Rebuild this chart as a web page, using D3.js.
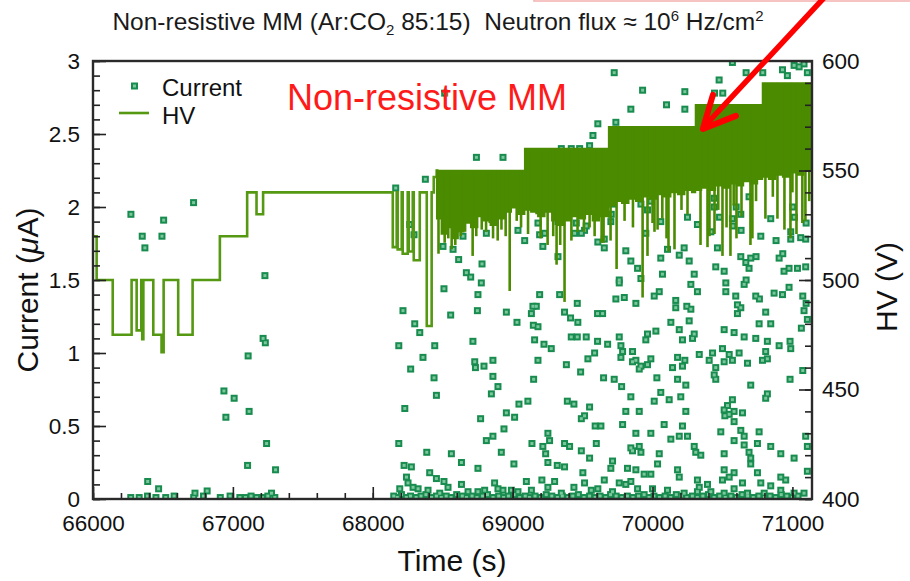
<!DOCTYPE html>
<html>
<head>
<meta charset="utf-8">
<script src="https://cdn.jsdelivr.net/npm/d3@7"></script>
<style>
  body { margin: 0; background: #fff; }
  svg { display: block; }
  text { font-family: "Liberation Sans", Arial, Helvetica, sans-serif; white-space: pre; }
</style>
</head>
<body>
<svg id="chart" width="910" height="581"></svg>
<script>
// ---------------- data ----------------
const timeDomain = [66000, 71140];
const currentDomain = [0, 3];
const hvDomain = [400, 600];

const timeTicks = [66000, 67000, 68000, 69000, 70000, 71000];
const currentTicks = [0, 0.5, 1, 1.5, 2, 2.5, 3];
const hvTicks = [400, 450, 500, 550, 600];

// Current readings [time (s), current (uA)]
const currentPoints = [
  [66271,1.95],[66505,1.91],[66719,2.03],[66352,1.80],[66493,1.80],[66371,1.72],
  [67229,1.53],[67216,1.10],[67232,1.07],[67109,0.98],[66936,0.74],[67009,0.69],[67116,0.60],
  [66950,0.56],[67241,0.38],[67105,0.23],[67305,0.20],[66391,0.12],[66469,0.07],[66729,0.04],
  [66816,0.055],[67276,0.04],
  [68164,2.13],[68186,1.05],[68216,1.29],[68229,0.62],[68186,0.38],[68224,0.23],
  [68509,1.44],[68776,1.48],[68752,1.40],[68557,1.26],[68748,1.29],[68300,1.20],[68336,1.14],
  [68443,1.05],[68359,0.97],[68271,0.89],[68438,0.83],[68455,0.71],[68386,0.32],[68562,0.31],
  [68634,0.25],[68276,0.22],[68407,0.18],[68455,0.14],[68509,0.12],[68752,0.21],[68716,1.08],
  [68729,0.94],[68734,0.90],[68795,0.91],[68859,0.95],[68859,0.84],[68895,0.77],[68848,0.72],
  [68771,0.55],[68812,0.40],[68859,0.43],[68938,0.48],[68955,0.59],[69014,0.56],[69045,0.65],
  [69109,0.67],[68919,0.32],[69009,0.24],[68955,1.28],[69031,1.21],[69145,1.32],[69169,1.32],
  [69134,1.27],[69148,1.19],[69181,1.18],[69193,1.40],[69336,1.40],[69157,1.09],[69224,1.06],
  [69276,1.03],[69181,0.95],[69150,0.82],[69371,1.28],[69414,1.24],[69466,1.21],[69462,1.34],
  [69419,1.11],[69462,1.11],[69526,1.11],[69384,0.92],[69486,0.87],[69538,0.96],[69586,1.00],
  [69391,0.67],[69438,0.65],[69550,0.63],[69514,0.57],[69491,0.55],[69590,0.50],[69252,0.45],
  [69264,0.40],[69216,0.36],[69236,0.31],[69138,0.38],[69371,0.38],[69407,0.36],[69252,0.25],
  [69319,0.23],[69371,0.22],[69491,0.33],[69550,0.28],[69502,0.18],[69209,0.13],[69300,0.12],
  [69438,0.08],[69598,0.38],[69607,1.27],[69607,1.08],
  [68193,0.07],[68241,0.15],[68252,0.11],[68288,0.08],[68324,0.07],[68395,0.06],[68479,0.04],
  [68538,0.08],[68634,0.10],[68681,0.05],[68752,0.05],[68800,0.06],[68871,0.11],[68895,0.07],
  [68931,0.06],[68991,0.06],[69038,0.05],[69098,0.12],[69134,0.06],[69252,0.08],[69348,0.04],
  [69514,0.11],[69562,0.06],[69609,0.07],
  [69762,1.48],[69738,1.37],[69798,1.38],[69881,1.34],[69643,1.27],[70048,1.42],[70012,1.39],
  [70166,1.36],[70166,1.31],[70274,1.30],[70245,1.32],[70274,1.47],[70321,1.42],[70524,1.48],
  [70524,1.42],[70655,1.47],[70595,1.39],[70607,1.33],[70631,1.31],[70607,1.27],[70738,1.39],
  [70869,1.41],[70929,1.40],[70976,1.45],[70809,1.28],[71083,1.29],[71107,1.23],[70131,1.21],
  [70191,1.16],[69964,1.13],[70024,1.15],[69952,1.09],[70262,1.22],[70298,1.13],[70286,1.10],
  [70214,1.09],[70512,1.16],[70583,1.14],[70655,1.11],[70738,1.10],[70762,1.20],[70845,1.20],
  [71064,1.17],[70983,1.08],[70988,1.03],[70905,1.05],[70821,1.08],[70809,1.01],[70821,0.96],
  [70786,0.95],[69679,1.06],[69762,1.11],[69774,1.05],[69786,1.01],[69774,0.97],[69857,1.01],
  [69881,0.95],[69857,0.94],[69917,0.91],[69988,0.96],[69964,0.92],[69905,0.89],[70179,0.97],
  [70231,0.95],[70214,0.91],[70143,0.90],[70334,0.99],[70429,1.00],[70405,0.95],[70500,1.03],
  [70548,0.99],[70512,0.94],[70571,0.95],[70619,1.00],[70679,0.93],[70452,0.90],[70441,0.85],
  [70452,0.82],[69650,0.83],[69726,0.82],[69779,0.77],[70031,0.83],[70179,0.82],[70238,0.78],
  [70702,0.78],[70983,0.82],[70059,0.73],[70012,0.67],[70119,0.68],[70202,0.70],[69845,0.70],
  [70821,0.72],[70809,0.69],[70536,0.64],[70571,0.68],[70512,0.61],[70548,0.58],[70583,0.60],
  [70643,0.59],[70517,0.57],[69809,0.60],[69905,0.60],[70238,0.60],[70583,0.53],[70631,0.47],
  [70655,0.43],[70583,0.40],[70488,0.46],[70762,0.46],[70750,0.38],[70083,0.51],[70214,0.50],
  [70191,0.43],[70250,0.43],[70131,0.41],[69786,0.51],[69631,0.50],[69881,0.45],[69988,0.45],
  [69845,0.35],[69905,0.36],[69917,0.32],[69857,0.33],[70048,0.31],[70036,0.24],[70298,0.36],
  [70345,0.30],[70309,0.32],[70512,0.31],[70655,0.37],[70690,0.32],[70702,0.28],[70702,0.24],
  [70845,0.36],[70917,0.31],[71012,0.28],[71095,0.43],[71107,0.36],[69714,0.26],[69702,0.21],
  [69821,0.21],[69881,0.20],[69940,0.17],[69988,0.17],[70179,0.20],[70191,0.15],[70512,0.20],
  [70548,0.15],[70583,0.18],[70500,0.13],[70643,0.11],[70750,0.18],[70774,0.11],[70845,0.09],
  [70917,0.15],[70952,0.13],[71107,0.19],[69655,0.13],[69762,0.11],[69809,0.10],[69845,0.12],
  [70321,0.13],[70334,0.08],[70393,0.10],
  [69714,0.05],[69893,0.07],[70000,0.07],[70107,0.06],[70226,0.04],[70321,0.05],[70417,0.05],
  [70512,0.04],[70583,0.07],[70679,0.04],[70798,0.04],[70917,0.06],[71012,0.04],[71083,0.04],
  [71074,1.39],[71098,1.34],[71074,0.88],
  [68514,2.78],[68741,2.34],[68931,2.34],[68376,2.19],[68295,1.81],[69609,2.57],[69574,2.49],
  [69550,2.42],[69348,2.40],[69419,2.40],[69479,2.40],[69181,1.89],[69193,1.81],[69229,1.82],
  [69216,1.73],[69086,1.77],[69324,1.66],[69443,1.82],[69514,1.84],[69491,1.82],[69609,1.76],
  [68812,1.82],[68645,1.80],[68574,1.71],[68614,1.64],[68781,1.61],[68669,1.55],[68700,1.52],
  [69038,1.84],[69324,1.90],[68264,1.88],[68502,1.73],
  [69726,2.92],[69929,2.80],[70231,2.79],[70476,2.87],[69845,2.67],[70100,2.70],[70231,2.67],
  [69738,2.58],[70571,2.99],[70929,2.94],[70964,2.90],[71012,2.97],[71048,2.96],[71083,2.98],
  [71107,2.92],[70905,2.80],[70669,2.92],[70788,2.92],[70443,2.78],[70502,2.78],
  [69714,2.02],[69702,1.90],[69655,1.78],[69655,1.72],[69917,2.02],[69988,2.04],[69964,1.98],
  [70059,1.90],[69952,1.82],[70250,1.93],[70107,1.71],[70226,1.72],[70191,1.67],[70262,1.63],
  [69809,1.70],[69845,1.63],[69893,1.58],[70059,1.65],[70417,1.83],[70441,2.00],[70441,2.06],
  [70524,2.16],[70571,1.92],[70631,1.95],[70690,2.07],[70464,1.72],[70452,1.59],[70512,1.56],
  [70631,1.66],[70667,1.62],[70702,1.65],[70690,1.58],[70774,1.80],[70845,1.92],[70905,1.65],
  [70988,1.83],[70988,1.78],[71059,1.79],[71095,1.78],[70976,1.58],[71036,1.58],[71095,1.59],
  [70940,1.56],[70321,1.88],[70298,1.54],[70071,1.54],[69762,1.50],[69917,1.51],
  [69455,1.89],[69526,1.87],[69705,1.95],[70479,1.93],[70574,1.87],[70598,2.00],[70633,1.84],
  [70740,1.66],[70669,1.50],[70883,1.77],[70931,1.68],[71002,2.00],[71014,1.93],[71098,1.89],
  [70764,1.37]
];

// Readings sitting on the baseline (dark strip along 0 uA)
const baselineTime = [
  66270,66330,66390,66450,66520,66580,66720,66790,66910,66980,67050,67090,67130,67170,67210,67250,67300,
  68150,68175,68205,68240,68270,68310,68345,68380,68420,68455,68490,68525,68560,68600,68640,68670,
  68710,68745,68785,68820,68860,68900,68935,68970,69010,69050,69090,69120,69160,69200,69240,69280,
  69320,69355,69395,69430,69470,69510,69550,69590,69625,69665,69700,69740,69780,69820,69860,69900,
  69940,69975,70010,70050,70090,70130,70170,70205,70245,70285,70320,70360,70400,70440,70480,70520,
  70560,70600,70640,70680,70720,70760,70800,70840,70880,70920,70960,71000,71040
];
const baselineCurrent = [
  0.01,0.01,0.02,0.01,0.01,0.02,0.01,0.02,0.01,0.02,0.01,0.01,0.02,0.01,0.01,0.02,0.01,
  0.02,0.01,0.03,0.01,0.02,0.01,0.02,0.03,0.01,0.02,0.01,0.02,0.01,0.03,0.02,0.01,
  0.02,0.01,0.02,0.03,0.01,0.02,0.01,0.02,0.03,0.01,0.02,0.01,0.02,0.01,0.03,0.02,
  0.01,0.02,0.01,0.02,0.03,0.01,0.02,0.01,0.02,0.01,0.03,0.02,0.01,0.02,0.01,0.02,
  0.03,0.01,0.02,0.01,0.02,0.01,0.03,0.02,0.01,0.02,0.01,0.02,0.03,0.01,0.02,0.01,
  0.02,0.01,0.03,0.02,0.01,0.02,0.01,0.02,0.01,0.03,0.02,0.01,0.02
];

// HV set-point steps before the unstable period [time (s), HV (V)]
const hvStepTime = [66000,66026,66141,66276,66312,66345,66352,66360,66431,66490,66505,66609,66712,
  66907,67102,67169,67216,68143,68171,68178,68207,68214,68250,68257,68286,68293,68336,68386,68421,
  68436,68457,68470];
const hvStepVolt = [520,500,475,500,477,500,473,500,475,467,500,475,500,
  520,540,530,540,515,540,514,540,512,540,513,540,509,540,479,540,
  547,550,550];

// Unstable period: HV level steps and the lower edge of the trip band
const levelTime = [68457, 69086, 69686, 70307, 70786];
const levelVolt = [550, 560, 570, 580, 590];
const bandTime = [68457,68490,68530,68570,68610,68650,68700,68750,68790,68840,68890,68940,68990,69040,
  69086,69130,69180,69230,69280,69320,69370,69420,69470,69520,69570,69620,69686,69730,69780,69830,
  69880,69930,69980,70030,70080,70130,70180,70230,70280,70307,70350,70400,70450,70500,70550,70600,
  70650,70700,70750,70786,70830,70880,70930,70980,71030,71080,71140];
const bandFloor = [528,521,524,519,522,526,524,529,527,525,528,531,533,530,
  532,531,529,531,527,525,527,529,528,530,527,529,534,536,535,537,
  536,538,537,539,538,540,539,541,540,541,542,541,543,542,544,543,
  545,544,546,547,546,548,547,549,548,550,550];

// HV drops during the unstable period
const spikeTime = [68514,68564,68629,68714,68779,68893,68979,69029,69314,69371,69464,69586,69636,69700,
  69743,69929,69964,70036,70114,70157,70343,70393,70443,70500,70557,70636,70700,70807,70893,70943,
  70986,71029,71093,
  68470,68540,68590,68660,68740,68810,68836,68860,68920,68950,69060,69110,69171,69200,69250,69290,
  69340,69420,69510,69550,69650,69800,69860,70000,70014,70070,70100,70207,70250,70407,70470,70529,
  70580,70600,70714,70740,70860,71000,71071,71120];
const spikeVolt = [517,514,520,511,523,518,495,527,507,490,522,520,517,518,
  505,492,511,523,513,514,516,515,521,511,511,529,516,528,528,523,
  519,521,527,
  512,519,516,522,520,522,526,519,523,520,524,521,530,519,516,520,
  516,518,522,524,517,527,524,526,522,528,519,532,530,520,532,524,
  534,519,519,536,538,540,526,536];

// ---------------- layout ----------------
const svg = d3.select("#chart");
const plot = { left: 93, right: 812, top: 61, bottom: 499 };

const x = d3.scaleLinear().domain(timeDomain).range([plot.left, plot.right]);
const yCur = d3.scaleLinear().domain(currentDomain).range([plot.bottom, plot.top]);
const yHV = d3.scaleLinear().domain(hvDomain).range([plot.bottom, plot.top]);

const hvColor = "#4b8b00";
const hvLineColor = "#559812";
const markerColor = "#188c4e";
const markerCore = "#7cc79d";
const inkColor = "#111";

svg.append("defs").append("clipPath").attr("id", "plotClip")
  .append("rect")
  .attr("x", plot.left).attr("y", plot.top)
  .attr("width", plot.right - plot.left).attr("height", plot.bottom - plot.top);

// light frame remnant along the upper right edge
svg.append("rect")
  .attr("x", 534).attr("y", -20).attr("width", 400).attr("height", 21)
  .attr("fill", "none").attr("stroke", "#f4b0b0").attr("stroke-width", 1.5);

// ---------------- title ----------------
const title = svg.append("text")
  .attr("x", 438).attr("y", 30)
  .attr("text-anchor", "middle")
  .attr("font-size", 24.5)
  .attr("fill", "#1a1a1a");
title.append("tspan").text("Non-resistive MM (Ar:CO");
title.append("tspan").attr("font-size", 15).attr("dy", 5).text("2");
title.append("tspan").attr("dy", -5).text(" 85:15)  Neutron flux \u2248 10");
title.append("tspan").attr("font-size", 15).attr("dy", -9).text("6");
title.append("tspan").attr("dy", 9).text(" Hz/cm");
title.append("tspan").attr("font-size", 15).attr("dy", -9).text("2");

// ---------------- current markers ----------------
const allCurrent = currentPoints.concat(baselineTime.map((t, i) => [t, baselineCurrent[i]]));
const marks = svg.append("g").attr("clip-path", "url(#plotClip)");
marks.selectAll("rect.m").data(allCurrent).join("rect")
  .attr("class", "m")
  .attr("x", d => x(d[0]) - 3.5).attr("y", d => yCur(d[1]) - 3.5)
  .attr("width", 7).attr("height", 7)
  .attr("fill", markerColor);
marks.selectAll("rect.c").data(allCurrent).join("rect")
  .attr("class", "c")
  .attr("x", d => x(d[0]) - 1.5).attr("y", d => yCur(d[1]) - 1.5)
  .attr("width", 3).attr("height", 3)
  .attr("fill", markerCore);

// ---------------- HV ----------------
const hvG = svg.append("g").attr("clip-path", "url(#plotClip)");
const stepData = hvStepTime.map((t, i) => ({ t, v: hvStepVolt[i] }));
hvG.append("path")
  .datum(stepData)
  .attr("fill", "none").attr("stroke", hvLineColor).attr("stroke-width", 2.6)
  .attr("d", d3.line().x(d => x(d.t)).y(d => yHV(d.v)).curve(d3.curveStepAfter));

const levelAt = t => levelVolt[Math.max(0, d3.bisectRight(levelTime, t) - 1)];
const bandData = bandTime.map((t, i) => ({ t, top: levelAt(t), floor: bandFloor[i] }));
hvG.append("path")
  .datum(bandData)
  .attr("fill", hvColor).attr("stroke", hvColor).attr("stroke-width", 1.5)
  .attr("d", d3.area().x(d => x(d.t)).y0(d => yHV(d.floor)).y1(d => yHV(d.top)).curve(d3.curveStepAfter));

hvG.selectAll("line.spike").data(spikeTime.map((t, i) => ({ t, v: spikeVolt[i] }))).join("line")
  .attr("class", "spike")
  .attr("x1", d => x(d.t)).attr("x2", d => x(d.t))
  .attr("y1", d => yHV(levelAt(d.t))).attr("y2", d => yHV(d.v))
  .attr("stroke", hvColor).attr("stroke-width", 2.6);

// ---------------- axes ----------------
function styleAxis(g) {
  g.select(".domain").remove();
  g.selectAll(".tick line").attr("stroke", "#222").attr("stroke-width", 1.6);
  g.selectAll(".tick text").attr("fill", inkColor).attr("font-size", 22.5)
    .attr("font-family", "'Liberation Sans', Arial, Helvetica, sans-serif");
}

svg.append("g").attr("transform", `translate(0,${plot.bottom})`)
  .call(d3.axisBottom(x).tickValues(d3.range(66000, 71141, 200)).tickSize(-6).tickFormat(""))
  .call(styleAxis);
svg.append("g").attr("transform", `translate(0,${plot.bottom})`)
  .call(d3.axisBottom(x).tickValues(timeTicks).tickSize(-12).tickPadding(16).tickFormat(d3.format("d")))
  .call(styleAxis);

svg.append("g").attr("transform", `translate(${plot.left},0)`)
  .call(d3.axisLeft(yCur).tickValues(d3.range(0, 3.001, 0.1)).tickSize(-7).tickFormat(""))
  .call(styleAxis);
svg.append("g").attr("transform", `translate(${plot.left},0)`)
  .call(d3.axisLeft(yCur).tickValues(currentTicks).tickSize(-13).tickPadding(13).tickFormat(d => String(d)))
  .call(styleAxis);

svg.append("g").attr("transform", `translate(${plot.right},0)`)
  .call(d3.axisRight(yHV).tickValues(d3.range(400, 601, 10)).tickSize(-7).tickFormat(""))
  .call(styleAxis);
svg.append("g").attr("transform", `translate(${plot.right},0)`)
  .call(d3.axisRight(yHV).tickValues(hvTicks).tickSize(-13).tickPadding(10).tickFormat(d3.format("d")))
  .call(styleAxis);

// frame
svg.append("rect")
  .attr("x", plot.left).attr("y", plot.top)
  .attr("width", plot.right - plot.left).attr("height", plot.bottom - plot.top)
  .attr("fill", "none").attr("stroke", "#2a2a2a").attr("stroke-width", 2.4);

// ---------------- axis titles ----------------
const yTitle = svg.append("text")
  .attr("transform", "translate(38,290) rotate(-90)")
  .attr("text-anchor", "middle").attr("font-size", 30).attr("fill", inkColor);
yTitle.append("tspan").text("Current (");
yTitle.append("tspan").attr("font-style", "italic").text("\u03bc");
yTitle.append("tspan").text("A)");

svg.append("text")
  .attr("transform", "translate(897,287) rotate(-90)")
  .attr("text-anchor", "middle").attr("font-size", 30).attr("fill", inkColor)
  .text("HV (V)");

svg.append("text")
  .attr("x", 452).attr("y", 571)
  .attr("text-anchor", "middle").attr("font-size", 30).attr("fill", inkColor)
  .text("Time (s)");

// ---------------- legend ----------------
const legend = svg.append("g");
legend.append("rect").attr("x", 131).attr("y", 82.5).attr("width", 7).attr("height", 7).attr("fill", markerColor);
legend.append("rect").attr("x", 133).attr("y", 84.5).attr("width", 3).attr("height", 3).attr("fill", markerCore);
legend.append("text").attr("x", 162).attr("y", 96).attr("font-size", 24).attr("fill", inkColor).text("Current");
legend.append("line").attr("x1", 119).attr("x2", 149).attr("y1", 113).attr("y2", 113)
  .attr("stroke", hvLineColor).attr("stroke-width", 2.6);
legend.append("text").attr("x", 162).attr("y", 124).attr("font-size", 24).attr("fill", inkColor).text("HV");

// ---------------- annotation ----------------
svg.append("text")
  .attr("x", 287).attr("y", 110)
  .attr("font-size", 36).attr("fill", "#ff1a1a")
  .text("Non-resistive MM");

const tip = [x(70360), yHV(569)];
svg.append("line")
  .attr("x1", tip[0] + 122).attr("y1", tip[1] - 132)
  .attr("x2", tip[0] + 1).attr("y2", tip[1] - 2)
  .attr("stroke", "#ff0000").attr("stroke-width", 5.5).attr("stroke-linecap", "round");
svg.append("polyline")
  .attr("points", [[tip[0] + 10, tip[1] - 34], tip, [tip[0] + 33, tip[1] - 13]].map(p => p.join(",")).join(" "))
  .attr("fill", "none").attr("stroke", "#ff0000").attr("stroke-width", 6)
  .attr("stroke-linecap", "round").attr("stroke-linejoin", "round");
</script>
</body>
</html>
